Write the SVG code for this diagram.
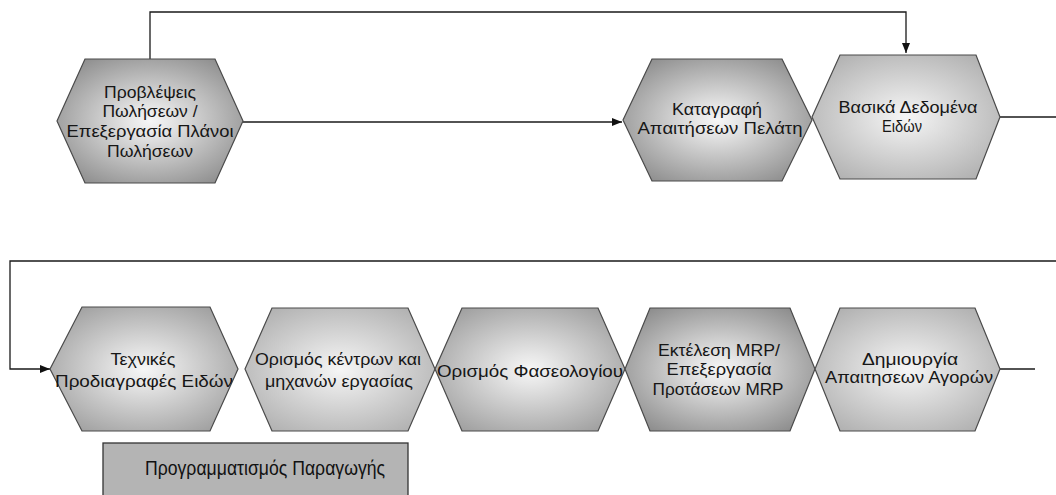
<svg xmlns="http://www.w3.org/2000/svg" width="1056" height="495" viewBox="0 0 1056 495">
<style>
.hex{stroke:#4a4a4a;stroke-width:1.2}
.t{font-family:"Liberation Sans",Arial,sans-serif;font-size:16px;fill:#161616;text-anchor:middle}
.c{fill:none;stroke:#1a1a1a;stroke-width:1.3}
.title{font-family:"Liberation Sans",Arial,sans-serif;font-size:20px;fill:#111}
</style>
<defs>
<radialGradient id="gD" cx="0.5" cy="0.5" r="0.62">
<stop offset="0" stop-color="#f6f6f6"/><stop offset="0.2" stop-color="#e4e4e4"/><stop offset="1" stop-color="#8c8c8c"/>
</radialGradient>
<radialGradient id="gM" cx="0.5" cy="0.5" r="0.62">
<stop offset="0" stop-color="#f6f6f6"/><stop offset="0.2" stop-color="#e6e6e6"/><stop offset="1" stop-color="#9e9e9e"/>
</radialGradient>
<radialGradient id="gL" cx="0.5" cy="0.5" r="0.62">
<stop offset="0" stop-color="#f6f6f6"/><stop offset="0.2" stop-color="#e8e8e8"/><stop offset="1" stop-color="#b0b0b0"/>
</radialGradient>
<marker id="arr" viewBox="0 0 10 8" refX="10" refY="4" markerWidth="10" markerHeight="8" markerUnits="userSpaceOnUse" orient="auto">
<path d="M0,0 L10,4 L0,8 z" fill="#111"/>
</marker>
</defs>

<g id="connectors">
<path class="c" d="M150,59 V12 H906 V53" marker-end="url(#arr)"/>
<path class="c" d="M243,122 H622" marker-end="url(#arr)"/>
<path class="c" d="M1000,117 H1056"/>
<path class="c" d="M1056,261 H10 V369 H50" marker-end="url(#arr)"/>
<path class="c" d="M1000,369 H1035"/>
</g>

<g id="n1">
<polygon class="hex" fill="url(#gD)" points="57,121 85,59 215,59 243,121 215,183 85,183"/>
<text class="t"><tspan x="150" y="98" textLength="92" lengthAdjust="spacingAndGlyphs">Προβλέψεις</tspan><tspan x="150" y="117" textLength="95" lengthAdjust="spacingAndGlyphs">Πωλήσεων /</tspan><tspan x="150" y="137" textLength="167" lengthAdjust="spacingAndGlyphs">Επεξεργασία Πλάνοι</tspan><tspan x="150" y="157" textLength="86" lengthAdjust="spacingAndGlyphs">Πωλήσεων</tspan></text>
</g>

<g id="n2">
<polygon class="hex" fill="url(#gD)" points="623,120 652,59 782,59 812,120 782,181 652,181"/>
<text class="t"><tspan x="717" y="115" textLength="90" lengthAdjust="spacingAndGlyphs">Καταγραφή</tspan><tspan x="720" y="134" textLength="165" lengthAdjust="spacingAndGlyphs">Απαιτήσεων Πελάτη</tspan></text>
</g>

<g id="n3">
<polygon class="hex" fill="url(#gL)" points="812,117 840,55 976,55 1000,117 976,179 840,179"/>
<text class="t"><tspan x="908" y="113" textLength="139" lengthAdjust="spacingAndGlyphs">Βασικά Δεδομένα</tspan><tspan x="902" y="132" textLength="40" lengthAdjust="spacingAndGlyphs">Ειδών</tspan></text>
</g>

<g id="n4">
<polygon class="hex" fill="url(#gM)" points="50,369 82,307 210,307 238,369 210,431 82,431"/>
<text class="t"><tspan x="143" y="365" textLength="65" lengthAdjust="spacingAndGlyphs">Τεχνικές</tspan><tspan x="144" y="387" textLength="178" lengthAdjust="spacingAndGlyphs">Προδιαγραφές Ειδών</tspan></text>
</g>

<g id="n5">
<polygon class="hex" fill="url(#gL)" points="245,369 272,308 408,308 435,369 408,431 272,431"/>
<text class="t"><tspan x="338" y="365" textLength="166" lengthAdjust="spacingAndGlyphs">Ορισμός κέντρων και</tspan><tspan x="339" y="387" textLength="148" lengthAdjust="spacingAndGlyphs">μηχανών εργασίας</tspan></text>
</g>

<g id="n6">
<polygon class="hex" fill="url(#gM)" points="435,369 462,308 598,308 625,369 598,431 462,431"/>
<text class="t"><tspan x="530" y="377" textLength="186" lengthAdjust="spacingAndGlyphs">Ορισμός Φασεολογίου</tspan></text>
</g>

<g id="n7">
<polygon class="hex" fill="url(#gD)" points="625,369 650,308 790,308 815,369 790,431 650,431"/>
<text class="t"><tspan x="719" y="356" textLength="122" lengthAdjust="spacingAndGlyphs">Εκτέλεση MRP/</tspan><tspan x="719" y="375" textLength="105" lengthAdjust="spacingAndGlyphs">Επεξεργασία</tspan><tspan x="718" y="395" textLength="131" lengthAdjust="spacingAndGlyphs">Προτάσεων MRP</tspan></text>
</g>

<g id="n8">
<polygon class="hex" fill="url(#gL)" points="815,369 840,308 975,308 1000,369 975,431 840,431"/>
<text class="t"><tspan x="910" y="365" textLength="96" lengthAdjust="spacingAndGlyphs">Δημιουργία</tspan><tspan x="909" y="383" textLength="168" lengthAdjust="spacingAndGlyphs">Απαιτησεων Αγορών</tspan></text>
</g>

<g id="title">
<rect x="103" y="443" width="305" height="60" fill="#b4b4b4" stroke="#333" stroke-width="1.3"/>
<text class="title" x="145" y="475" textLength="240" lengthAdjust="spacingAndGlyphs">Προγραμματισμός Παραγωγής</text>
</g>
</svg>
